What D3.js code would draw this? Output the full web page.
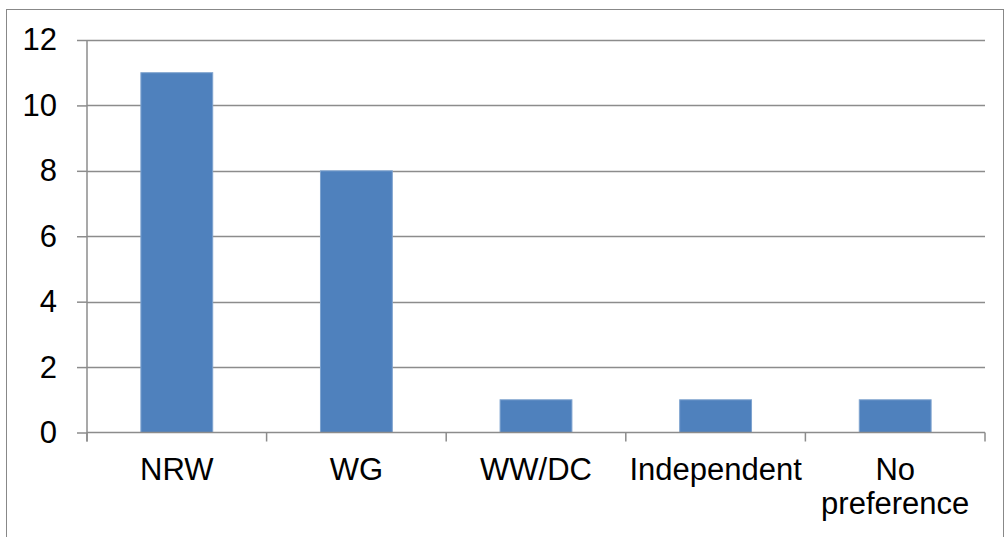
<!DOCTYPE html>
<html>
<head>
<meta charset="utf-8">
<script src="https://cdn.jsdelivr.net/npm/d3@7"></script>
<style>
  body { margin: 0; background: #fff; }
  text { font-family: "Liberation Sans", Arial, sans-serif; fill: #000; }
</style>
</head>
<body>
<div id="chart"></div>
<script>
const categories = ["NRW", "WG", "WW/DC", "Independent", "No preference"];
const values = [11, 8, 1, 1, 1];
const yTicks = [0, 2, 4, 6, 8, 10, 12];

const width = 1004, height = 537;
const margin = { top: 40, right: 19, bottom: 104, left: 87 };
const fontSize = "31px";

const svg = d3.select("#chart").append("svg")
    .attr("width", width)
    .attr("height", height);

// outer chart border
svg.append("rect")
    .attr("x", 6.5).attr("y", 9.5)
    .attr("width", 1003 - 6).attr("height", 540)
    .attr("fill", "none")
    .attr("stroke", "#888")
    .attr("stroke-width", 1);

const x = d3.scaleBand()
    .domain(categories)
    .range([margin.left, width - margin.right])
    .paddingInner(0.6)
    .paddingOuter(0.3);

const y = d3.scaleLinear()
    .domain([0, 12])
    .range([height - margin.bottom - 0.5, margin.top]);

// gridlines
svg.append("g")
    .selectAll("line")
    .data(yTicks.filter(d => d > 0))
    .enter()
    .append("line")
    .attr("x1", margin.left)
    .attr("x2", width - margin.right)
    .attr("y1", d => Math.round(y(d)) + 0.5)
    .attr("y2", d => Math.round(y(d)) + 0.5)
    .attr("stroke", "#8c8c8c")
    .attr("stroke-width", 1.5);

// bars
svg.append("g")
    .selectAll("rect")
    .data(values)
    .enter()
    .append("rect")
    .attr("x", (d, i) => x(categories[i]))
    .attr("y", d => y(d))
    .attr("width", x.bandwidth())
    .attr("height", d => y(0) - y(d))
    .attr("fill", "#4f81bd")
    .attr("stroke", "#7ea3cf")
    .attr("stroke-width", 1);

// y axis
const yAxis = svg.append("g")
    .attr("transform", `translate(${margin.left},0)`)
    .call(d3.axisLeft(y).tickValues(yTicks).tickSize(10).tickPadding(20).tickFormat(d3.format("d")));
yAxis.select(".domain").remove();
yAxis.append("line")
    .attr("x1", 0).attr("x2", 0)
    .attr("y1", margin.top).attr("y2", y(0) + 9)
    .attr("stroke", "#8c8c8c").attr("stroke-width", 1.5);
yAxis.selectAll(".tick line").attr("stroke", "#8c8c8c").attr("stroke-width", 1.5);
yAxis.selectAll(".tick text")
    .style("font-size", fontSize)
    .style("font-family", "Liberation Sans, Arial, sans-serif")
    .attr("fill", "#000");

// x axis
const xStep = (width - margin.right - margin.left) / categories.length;
const xAxisG = svg.append("g");
xAxisG.append("line")
    .attr("x1", margin.left).attr("x2", width - margin.right)
    .attr("y1", y(0)).attr("y2", y(0))
    .attr("stroke", "#8c8c8c").attr("stroke-width", 1.5);
xAxisG.selectAll(".xtick")
    .data(d3.range(categories.length + 1))
    .enter()
    .append("line")
    .attr("x1", i => margin.left + i * xStep)
    .attr("x2", i => margin.left + i * xStep)
    .attr("y1", y(0)).attr("y2", y(0) + 9)
    .attr("stroke", "#8c8c8c").attr("stroke-width", 1.5);

const labels = xAxisG.selectAll(".xlabel")
    .data(categories)
    .enter()
    .append("text")
    .attr("text-anchor", "middle")
    .style("font-size", fontSize)
    .attr("x", d => x(d) + x.bandwidth() / 2)
    .attr("y", y(0) + 47);

labels.each(function (d) {
    const words = d === "No preference" ? ["No", "preference"] : [d];
    const t = d3.select(this);
    words.forEach((w, i) => {
        t.append("tspan")
            .attr("x", x(d) + x.bandwidth() / 2)
            .attr("dy", i === 0 ? 0 : 34)
            .text(w);
    });
});
</script>
</body>
</html>
